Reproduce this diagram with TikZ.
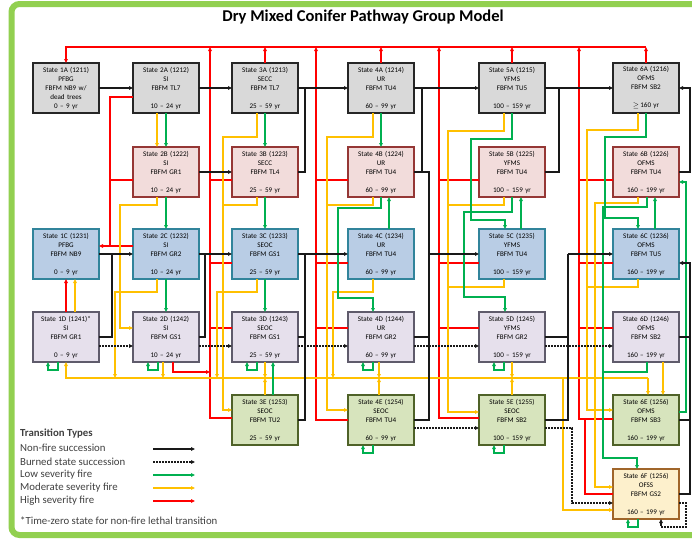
\documentclass[tikz,border=0pt]{standalone}
\usepackage{fontspec}
\setmainfont{Carlito}
\usetikzlibrary{arrows.meta,calc}
\definecolor{bordergreen}{HTML}{92D050}
\definecolor{fred}{HTML}{FF0000}
\definecolor{fyel}{HTML}{FFC000}
\definecolor{fgrn}{HTML}{00B050}
\definecolor{legtxt}{HTML}{404040}
\definecolor{fillA}{HTML}{D9D9D9}
\definecolor{fillB}{HTML}{F2DCDB}
\definecolor{drawB}{HTML}{953735}
\definecolor{fillC}{HTML}{B9CDE5}
\definecolor{drawC}{HTML}{31849B}
\definecolor{fillD}{HTML}{E6E0EC}
\definecolor{drawD}{HTML}{5F5B6B}
\definecolor{fillE}{HTML}{D7E4BD}
\definecolor{drawE}{HTML}{4F6228}
\definecolor{fillF}{HTML}{FDF0CC}
\definecolor{drawF}{HTML}{A0652A}
\tikzset{
  statebox/.style={draw, line width=1.4pt, minimum width=66pt, minimum height=50pt,
    inner sep=0pt, outer sep=0pt, align=center, text width=64pt,
    font=\fontsize{7.1}{9}\selectfont},
  rowA/.style={statebox, fill=fillA, draw=black!85, line width=1.6pt},
  rowB/.style={statebox, fill=fillB, draw=drawB},
  rowC/.style={statebox, fill=fillC, draw=drawC},
  rowD/.style={statebox, fill=fillD, draw=drawD},
  rowE/.style={statebox, fill=fillE, draw=drawE},
  rowF/.style={statebox, fill=fillF, draw=drawF},
  tipx/.style={-{Triangle[length=4pt,width=3.6pt]}},
  blk/.style={draw=black!90, line width=1.3pt},
  dotl/.style={draw=black!90, line width=1.2pt, dash pattern=on 1.6pt off 1.4pt},
  rd/.style={draw=fred, line width=1.2pt},
  yl/.style={draw=fyel, line width=1.2pt},
  gn/.style={draw=fgrn, line width=1.2pt},
  legtext/.style={anchor=west, text=legtxt, inner sep=0pt, font=\fontsize{10.8}{12}\selectfont},
}
\begin{document}
\begin{tikzpicture}[x=1pt,y=-1pt]
\useasboundingbox (0,0) rectangle (692,538);
\clip (0,0) rectangle (692,538);
\fill[white] (0,0) rectangle (692,538);
\draw[bordergreen, line width=6pt, rounded corners=8pt] (11.5,4) rectangle (710,535);

\node[font=\fontsize{16.5}{19}\selectfont\bfseries, inner sep=0pt] (title) at (363,17) {Dry Mixed Conifer Pathway Group Model};

% ---------- states ----------
\node[rowA] (n1A) at (66,88) {State 1A (1211)\\PFBG\\FBFM NB9 w/\\dead trees\\0 – 9 yr};
\node[rowA] (n2A) at (166,88) {State 2A (1212)\\SI\\FBFM TL7\\[9pt]10 – 24 yr};
\node[rowA] (n3A) at (265,88) {State 3A (1213)\\SECC\\FBFM TL7\\[9pt]25 – 59 yr};
\node[rowA] (n4A) at (381,88) {State 4A (1214)\\UR\\FBFM TU4\\[9pt]60 – 99 yr};
\node[rowA] (n5A) at (512,88) {State 5A (1215)\\YFMS\\FBFM TU5\\[9pt]100 – 159 yr};
\node[rowA] (n6A) at (646,88) {State 6A (1216)\\OFMS\\FBFM SB2\\[9pt]$\geq$\,160 yr};

\node[rowB] (n2B) at (166,172) {State 2B (1222)\\SI\\FBFM GR1\\[9pt]10 – 24 yr};
\node[rowB] (n3B) at (265,172) {State 3B (1223)\\SECC\\FBFM TL4\\[9pt]25 – 59 yr};
\node[rowB] (n4B) at (381,172) {State 4B (1224)\\UR\\FBFM TU4\\[9pt]60 – 99 yr};
\node[rowB] (n5B) at (512,172) {State 5B (1225)\\YFMS\\FBFM TU4\\[9pt]100 – 159 yr};
\node[rowB] (n6B) at (646,172) {State 6B (1226)\\OFMS\\FBFM TU4\\[9pt]160 – 199 yr};

\node[rowC] (n1C) at (66,254) {State 1C (1231)\\PFBG\\FBFM NB9\\[9pt]0 – 9 yr};
\node[rowC] (n2C) at (166,254) {State 2C (1232)\\SI\\FBFM GR2\\[9pt]10 – 24 yr};
\node[rowC] (n3C) at (265,254) {State 3C (1233)\\SEOC\\FBFM GS1\\[9pt]25 – 59 yr};
\node[rowC] (n4C) at (381,254) {State 4C (1234)\\UR\\FBFM TU4\\[9pt]60 – 99 yr};
\node[rowC] (n5C) at (512,254) {State 5C (1235)\\YFMS\\FBFM TU4\\[9pt]100 – 159 yr};
\node[rowC] (n6C) at (646,254) {State 6C (1236)\\OFMS\\FBFM TU5\\[9pt]160 – 199 yr};

\node[rowD] (n1D) at (66,337) {State 1D (1241)*\\SI\\FBFM GR1\\[9pt]0 – 9 yr};
\node[rowD] (n2D) at (166,337) {State 2D (1242)\\SI\\FBFM GS1\\[9pt]10 – 24 yr};
\node[rowD] (n3D) at (265,337) {State 3D (1243)\\SEOC\\FBFM GS1\\[9pt]25 – 59 yr};
\node[rowD] (n4D) at (381,337) {State 4D (1244)\\UR\\FBFM GR2\\[9pt]60 – 99 yr};
\node[rowD] (n5D) at (512,337) {State 5D (1245)\\YFMS\\FBFM GR2\\[9pt]100 – 159 yr};
\node[rowD] (n6D) at (646,337) {State 6D (1246)\\OFMS\\FBFM SB2\\[9pt]160 – 199 yr};

\node[rowE] (n3E) at (265,420) {State 3E (1253)\\SEOC\\FBFM TU2\\[9pt]25 – 59 yr};
\node[rowE] (n4E) at (381,420) {State 4E (1254)\\SEOC\\FBFM TU4\\[9pt]60 – 99 yr};
\node[rowE] (n5E) at (512,420) {State 5E (1255)\\SEOC\\FBFM SB2\\[9pt]100 – 159 yr};
\node[rowE] (n6E) at (646,420) {State 6E (1256)\\OFMS\\FBFM SB3\\[9pt]160 – 199 yr};

\node[rowF] (n6F) at (646,494) {State 6F (1256)\\OFSS\\FBFM GS2\\[9pt]160 – 199 yr};

% ---------- high severity (red) ----------
\draw[rd,tipx] (n6A.north) -- (646,47);
\draw[rd,tipx] (646,47) -- (66,47) -- (n1A.north);
\draw[rd,tipx] (n3A.north) -- (265,47);
\draw[rd,tipx] (n4A.north) -- (381,47);
\draw[rd,tipx] (n5A.north) -- (512,47);
\draw[rd,tipx] ($(n3E.west)+(0,-2)$) -- (210,418) -- (210,47);
\draw[rd] ($(n3B.west)+(0,8)$) -- (210,180);
\draw[rd] ($(n3C.west)+(0,9)$) -- (210,263);
\draw[rd] ($(n3D.west)+(0,-9)$) -- (210,328);
\draw[rd,tipx] ($(n2D.south)+(7,0)$) -- (173,372) -- (210,372);
\draw[rd,tipx] (n4E.west) -- (316,420) -- (316,47);
\draw[rd] ($(n4B.west)+(0,8)$) -- (316,180);
\draw[rd] ($(n4C.west)+(0,9)$) -- (316,263);
\draw[rd] ($(n4D.west)+(0,-9)$) -- (316,328);
\draw[rd,tipx] ($(n5E.west)+(0,-2)$) -- (439,418) -- (439,47);
\draw[rd] ($(n5B.west)+(0,8)$) -- (439,180);
\draw[rd] ($(n5C.west)+(0,9)$) -- (439,263);
\draw[rd] ($(n5D.west)+(0,-9)$) -- (439,328);
\draw[rd,tipx] ($(n6E.west)+(0,-1)$) -- (579,419) -- (579,47);
\draw[rd] ($(n6B.west)+(0,8)$) -- (579,180);
\draw[rd] ($(n6C.west)+(0,9)$) -- (579,263);
\draw[rd] ($(n6D.west)+(0,-9)$) -- (579,328);
\draw[rd] (n6F.west) -- (585,494) -- (585,419);
\draw[rd,tipx] ($(n2A.west)+(0,9)$) -- (110,97) -- (110,246) -- ($(n1C.east)+(0,-8)$);
\draw[rd] ($(n2B.west)+(0,8)$) -- (110,180);
\draw[rd] ($(n2C.west)+(0,-8)$) -- (110,246);
\draw[rd,tipx] (n1D.north) -- (n1C.south);

% ---------- moderate severity (yellow) ----------
\draw[yl,tipx] (648,378) -- (66,378) -- (n1D.south);
\draw[yl,tipx] (648,378) -- ($(n6E.north)+(2,0)$);
\draw[yl,tipx] ($(n2A.south)+(-9,0)$) -- ($(n2B.north)+(-9,0)$);
\draw[yl,tipx] ($(n2B.south)+(-9,0)$) -- (157,205) -- (120,205) -- (120,328) -- ($(n2D.west)+(0,-9)$);
\draw[yl,tipx] ($(n2C.south)+(-9,0)$) -- (157,292) -- (115,292) -- (115,378);
\draw[yl,tipx] ($(n2D.south)+(-3,0)$) -- (163,378);
\draw[yl,tipx] ($(n1D.north)+(9,0)$) -- ($(n1C.south)+(9,0)$);
\draw[yl,tipx] ($(n3A.south)+(-8,0)$) -- (257,137) -- (223,137) -- (223,410) -- ($(n3E.west)+(0,-10)$);
\draw[yl] ($(n3B.south)+(-8,0)$) -- (257,205) -- (223,205);
\draw[yl,tipx] ($(n3C.south)+(-8,0)$) -- (257,292) -- (217,292) -- (217,378);
\draw[yl,tipx] (n3D.south) -- (265,378);
\draw[yl,tipx] (n3E.north) -- (265,378);
\draw[yl,tipx] ($(n4A.south)+(-8,0)$) -- (373,137) -- (327,137) -- (327,410) -- ($(n4E.west)+(0,-10)$);
\draw[yl] ($(n4B.south)+(-8,0)$) -- (373,205) -- (327,205);
\draw[yl,tipx] ($(n4C.south)+(-8,0)$) -- (373,292) -- (333,292) -- (333,378);
\draw[yl,tipx] ($(n4D.south)+(-2,0)$) -- (379,378);
\draw[yl,tipx] ($(n4E.north)+(-2,0)$) -- (379,378);
\draw[yl,tipx] ($(n5A.south)+(-8,0)$) -- (504,131) -- (448,131) -- (448,412) -- ($(n5E.west)+(0,-8)$);
\draw[yl] ($(n5B.south)+(-8,0)$) -- (504,205) -- (448,205);
\draw[yl] ($(n5C.south)+(-8,0)$) -- (504,287) -- (448,287);
\draw[yl,tipx] (n5D.south) -- (512,378);
\draw[yl,tipx] (n5E.north) -- (512,378);
\draw[yl,tipx] ($(n6A.south)+(-8,0)$) -- (638,130) -- (587,130) -- (587,410) -- ($(n6E.west)+(0,-10)$);
\draw[yl,tipx] ($(n6B.south)+(-8,0)$) -- (638,203) -- (595,203) -- (595,487) -- ($(n6F.west)+(0,-7)$);
\draw[yl] ($(n6C.south)+(-8,0)$) -- (638,287) -- (587,287);
\draw[yl,tipx] ($(n6D.south)+(17,0)$) -- ($(n6E.north)+(17,0)$);
\draw[yl,tipx] (563,378) -- (563,510) -- ($(n6F.west)+(0,16)$);

% ---------- low severity (green) ----------
\draw[gn,tipx] (n2A.south) -- (n2B.north);
\draw[gn,tipx] (n3A.south) -- (n3B.north);
\draw[gn,tipx] (n4A.south) -- (n4B.north);
\draw[gn,tipx] (n5A.south) -- (512,139) -- (471,139) -- (471,220) -- (505,220) -- ($(n5C.north)+(-7,0)$);
\draw[gn,tipx] (n6A.south) -- (646,137) -- (605,137) -- (605,218) -- (638,218) -- ($(n6C.north)+(-8,0)$);
\draw[gn,tipx] (n2B.south) -- (n2C.north);
\draw[gn,tipx] (n3B.south) -- (n3C.north);
\draw[gn,tipx] ($(n4C.north)+(8,0)$) -- ($(n4B.south)+(8,0)$);
\draw[gn,tipx] (n4B.south) -- (381,208) -- (338,208) -- (338,298) -- (373,298) -- ($(n4D.north)+(-8,0)$);
\draw[gn,tipx] ($(n5C.north)+(9,0)$) -- ($(n5B.south)+(9,0)$);
\draw[gn,tipx] (n5B.south) -- (512,212) -- (464,212) -- (464,297) -- (505,297) -- ($(n5D.north)+(-7,0)$);
\draw[gn,tipx] ($(n6C.north)+(9,0)$) -- ($(n6B.south)+(9,0)$);
\draw[gn,tipx] ($(n6B.south)+(1,0)$) -- (647,207) -- (603,207) -- (603,458) -- (637,458) -- ($(n6F.north)+(-9,0)$);
\draw[gn] ($(n6D.south)+(1,0)$) -- (647,372) -- (603,372);
\draw[gn,tipx] (n2C.south) -- (n2D.north);
\draw[gn,tipx] (n3C.south) -- (n3D.north);
\draw[gn,tipx] ($(n3E.north)+(8,0)$) -- ($(n3D.south)+(8,0)$);
\draw[gn,tipx] ($(n6E.east)+(0,-8)$) -- (686,412) -- (686,182) -- ($(n6B.east)+(0,10)$);
\foreach \n in {n1D,n2D,n3D,n4D,n5D,n4E,n5E,n6F}
  \draw[gn,tipx] ($(\n.south)+(-8,0)$) -- ++(0,8) -- ++(-10,0) -- ++(0,-8);

% ---------- non-fire succession (black) ----------
\draw[blk,tipx] (n1A) -- (n2A);
\draw[blk,tipx] (n2A) -- (n3A);
\draw[blk,tipx] (n3A) -- (n4A);
\draw[blk,tipx] (n4A) -- (n5A);
\draw[blk,tipx] (n5A) -- (n6A);
\draw[blk,tipx] (n2B) -- (n3B);
\draw[blk] (n3B.east) -- (305,172) -- (305,88);
\draw[blk,tipx] (n1C) -- (n2C);
\draw[blk,tipx] (n2C) -- (n3C);
\draw[blk,tipx] (n3C) -- (n4C);
\draw[blk] (n4B.east) -- (429,172) -- (429,420) -- (n4E.east);
\draw[blk] (422,172) -- (422,88);
\draw[blk] (n4D.east) -- (429,337);
\draw[blk,tipx] (429,254) -- (n5C.west);
\draw[blk] (n5B.east) -- (559,172) -- (559,88);
\draw[blk] (n5E.east) -- (568,420) -- (568,254);
\draw[blk] (n5D.east) -- (568,337);
\draw[blk,tipx] (568,254) -- (n6C.west);
\draw[blk] (n3E.east) -- (305,420) -- (305,254);
\draw[blk] (n3D.east) -- (305,337);
\draw[blk] (n2D.east) -- (205,337) -- (205,254);
\draw[blk] (n1D.east) -- (112,337) -- (112,254);
\draw[blk,tipx] (n6B.east) -- (690,172) -- (690,88) -- (n6A.east);
\draw[blk,tipx] (n6F.east) -- (690,494) -- (690,263) -- ($(n6C.east)+(0,9)$);
\draw[blk] (n6D.east) -- (690,337);
\draw[blk] (n6E.east) -- (690,420);

% ---------- burned state succession (dotted) ----------
\draw[dotl,tipx] ($(n1D.east)+(0,9)$) -- ($(n2D.west)+(0,9)$);
\draw[dotl,tipx] ($(n2D.east)+(0,9)$) -- ($(n3D.west)+(0,9)$);
\draw[dotl,tipx] ($(n3D.east)+(0,9)$) -- ($(n4D.west)+(0,9)$);
\draw[dotl,tipx] ($(n4D.east)+(0,9)$) -- ($(n5D.west)+(0,9)$);
\draw[dotl,tipx] ($(n5D.east)+(0,9)$) -- ($(n6D.west)+(0,9)$);
\draw[dotl,tipx] ($(n4E.east)+(0,8)$) -- ($(n5E.west)+(0,8)$);
\draw[dotl,tipx] ($(n5E.east)+(0,8)$) -- (572,428) -- (572,503) -- ($(n6F.west)+(0,9)$);
\draw[dotl,tipx] ($(n6F.east)+(0,9)$) -- (686,503) -- (686,527) -- (661,527) -- ($(n6F.south)+(15,0)$);

% ---------- legend ----------
\node[legtext, font=\fontsize{10.8}{12}\selectfont\bfseries] (lt) at (20,434) {Transition Types};
\node[legtext] (lg1) at (20,448) {Non-fire succession};
\node[legtext] (lg2) at (20,462) {Burned state succession};
\node[legtext] (lg3) at (20,475) {Low severity fire};
\node[legtext] (lg4) at (20,488) {Moderate severity fire};
\node[legtext] (lg5) at (20,501) {High severity fire};
\node[legtext, font=\fontsize{10.8}{12}\selectfont] (lg6) at (20,521) {*Time-zero state for non-fire lethal transition};
\coordinate (la1) at (153,449); \coordinate (lb1) at (195,449);
\coordinate (la2) at (153,462); \coordinate (lb2) at (195,462);
\coordinate (la3) at (153,475); \coordinate (lb3) at (195,475);
\coordinate (la4) at (153,488); \coordinate (lb4) at (195,488);
\coordinate (la5) at (153,501); \coordinate (lb5) at (195,501);
\draw[blk,tipx] (la1) -- (lb1);
\draw[dotl,tipx] (la2) -- (lb2);
\draw[gn,tipx] (la3) -- (lb3);
\draw[yl,tipx] (la4) -- (lb4);
\draw[rd,tipx] (la5) -- (lb5);
\end{tikzpicture}
\end{document}
